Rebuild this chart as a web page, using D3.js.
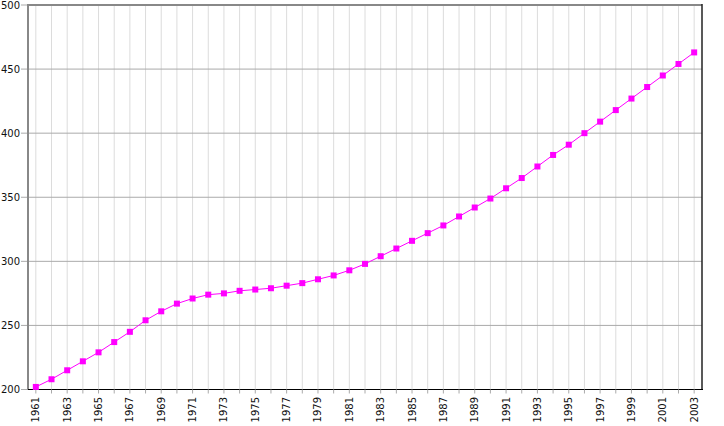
<!DOCTYPE html>
<html>
<head>
<meta charset="utf-8">
<script src="https://cdn.jsdelivr.net/npm/d3@7"></script>
<style>
  body { margin: 0; background: #fff; }
  svg text { font-family: "DejaVu Sans", sans-serif; font-size: 10px; fill: #111; }
</style>
</head>
<body>
<svg id="chart"></svg>
<script>
const years = d3.range(1961, 2004);
const values = [202, 208, 215, 222, 229, 237, 245, 254, 261, 267,
                271, 274, 275, 277, 278, 279, 281, 283, 286, 289,
                293, 298, 304, 310, 316, 322, 328, 335, 342, 349,
                357, 365, 374, 383, 391, 400, 409, 418, 427, 436,
                445, 454, 463];
const yTicks = [200, 250, 300, 350, 400, 450, 500];
const xLabelYears = years.filter(y => (y - 1961) % 2 === 0);

const W = 724, H = 426;
const plot = { left: 28, right: 702, top: 5, bottom: 389.5 };

const svg = d3.select("#chart").attr("width", W).attr("height", H);

let x = d3.scalePoint()
    .domain(years)
    .range([plot.left, plot.right])
    .padding(0.5);

let y = d3.scaleLinear()
    .domain([200, 500])
    .range([plot.bottom, plot.top]);

// vertical grid
svg.append("g")
    .selectAll("line")
    .data(years)
    .enter().append("line")
    .attr("x1", d => x(d)).attr("x2", d => x(d))
    .attr("y1", plot.top).attr("y2", plot.bottom)
    .attr("stroke", "#dcdcdc").attr("stroke-width", 1);

// horizontal grid + left ticks
svg.append("g")
    .selectAll("line")
    .data(yTicks)
    .enter().append("line")
    .attr("x1", 21).attr("x2", plot.right)
    .attr("y1", d => y(d)).attr("y2", d => y(d))
    .attr("stroke", "#aaa").attr("stroke-width", 1);

// y labels
svg.append("g")
    .selectAll("text")
    .data(yTicks)
    .enter().append("text")
    .attr("x", 20)
    .attr("y", d => y(d))
    .attr("dy", "0.35em")
    .attr("text-anchor", "end")
    .text(d => d);

// frame
svg.append("line").attr("x1", plot.left).attr("x2", plot.right).attr("y1", plot.top).attr("y2", plot.top)
    .attr("stroke", "#888").attr("stroke-width", 2);
svg.append("line").attr("x1", plot.left).attr("x2", plot.left).attr("y1", plot.top - 1).attr("y2", plot.bottom)
    .attr("stroke", "#888").attr("stroke-width", 2);
svg.append("line").attr("x1", plot.right).attr("x2", plot.right).attr("y1", plot.top - 1).attr("y2", plot.bottom)
    .attr("stroke", "#222").attr("stroke-width", 1.5);
svg.append("line").attr("x1", plot.left).attr("x2", plot.right + 1).attr("y1", plot.bottom).attr("y2", plot.bottom)
    .attr("stroke", "#000").attr("stroke-width", 1);

// x ticks
svg.append("g")
    .selectAll("line")
    .data(years)
    .enter().append("line")
    .attr("x1", d => x(d)).attr("x2", d => x(d))
    .attr("y1", plot.bottom).attr("y2", plot.bottom + 4)
    .attr("stroke", "#aaa");

// x labels
svg.append("g")
    .selectAll("text")
    .data(xLabelYears)
    .enter().append("text")
    .attr("transform", d => "translate(" + x(d) + "," + 397 + ") rotate(-90)")
    .attr("dy", "0.35em")
    .attr("text-anchor", "end")
    .text(d => d);

const data = years.map((yr, i) => ({ year: yr, value: values[i] }));

// line
svg.append("path")
    .datum(data)
    .attr("fill", "none")
    .attr("stroke", "#ff00ff")
    .attr("stroke-width", 1)
    .attr("d", d3.line()
        .x(d => x(d.year))
        .y(d => y(d.value)));

// markers
svg.append("g")
    .selectAll("rect")
    .data(data)
    .enter().append("rect")
    .attr("x", d => x(d.year) - 3)
    .attr("y", d => y(d.value) - 3)
    .attr("width", 6).attr("height", 6)
    .attr("fill", "#ff00ff");
</script>
</body>
</html>
